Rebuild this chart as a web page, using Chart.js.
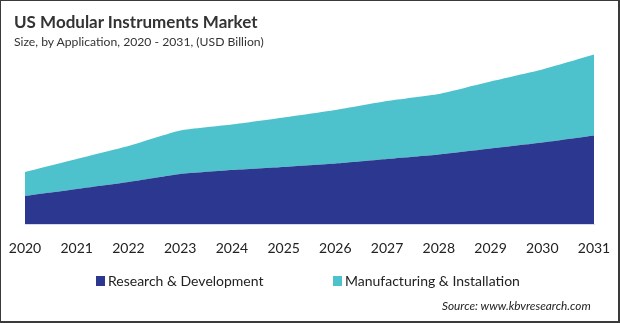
<!DOCTYPE html>
<html>
<head>
<meta charset="utf-8">
<script src="https://cdn.jsdelivr.net/npm/chart.js@4"></script>
<style>
  html, body { margin: 0; padding: 0; background: #fff; }
  #frame {
    position: relative; width: 617px; height: 320px;
    border-top: 1px solid #3a3a3a; border-left: 1px solid #3a3a3a;
    border-right: 2px solid #3a3a3a; border-bottom: 2px solid #3a3a3a;
    overflow: hidden; font-family: Lato, sans-serif;
  }
  #title { position: absolute; left: 13px; top: 10px; font-size: 17px; font-weight: bold; color: #333; }
  #subtitle { position: absolute; left: 13px; top: 33px; font-size: 12.2px; color: #333; }
  #source { position: absolute; left: 441px; top: 297px; font-size: 11.8px; font-style: italic; color: #222; }
  #chart { position: absolute; left: -1px; top: -1px; }
  .key { position: absolute; top: 272px; font-size: 14px; line-height: 16px; color: #222; white-space: nowrap; }
  .key i { position: absolute; left: -12px; top: 3px; width: 9px; height: 10px; }
</style>
</head>
<body>
<div id="frame">
  <canvas id="chart" width="620" height="323"></canvas>
  <div id="title">US Modular Instruments Market</div>
  <div id="subtitle">Size, by Application, 2020 - 2031, (USD Billion)</div>
  <div id="legend"></div>
  <div id="source">Source: www.kbvresearch.com</div>
</div>
<script>
// years on the x axis
const years = ['2020','2021','2022','2023','2024','2025','2026','2027','2028','2029','2030','2031'];

// USD Billion per application segment (stacked)
const research = [0.56, 0.70, 0.84, 1.00, 1.08, 1.14, 1.21, 1.30, 1.39, 1.51, 1.63, 1.77];
const manufacturing = [0.48, 0.60, 0.72, 0.87, 0.91, 0.99, 1.07, 1.16, 1.21, 1.34, 1.46, 1.62];

const seriesNames = ['Research & Development', 'Manufacturing & Installation'];
const seriesColors = ['#2c388f', '#4dc2cc'];

const chart = new Chart(document.getElementById('chart'), {
    type: 'line',
    data: {
        labels: years,
        datasets: [{
            label: seriesNames[0],
            data: research,
            backgroundColor: seriesColors[0],
            borderColor: seriesColors[0],
            borderWidth: 0,
            pointRadius: 0,
            fill: 'origin',
            tension: 0.15
        }, {
            label: seriesNames[1],
            data: manufacturing,
            backgroundColor: seriesColors[1],
            borderColor: seriesColors[1],
            borderWidth: 0,
            pointRadius: 0,
            fill: '-1',
            tension: 0.15
        }]
    },
    options: {
        responsive: false,
        animation: false,
        devicePixelRatio: 1,
        layout: { padding: { left: 25, right: 26, top: 24, bottom: 69 } },
        scales: {
            x: {
                offset: false,
                grid: { display: false },
                border: { display: true, color: '#d0dcf2', width: 1 },
                ticks: { color: '#222', font: { family: 'Lato', size: 14 }, padding: 8, maxRotation: 0, autoSkip: false },
                // fixed axis box so the plot keeps its own edges
                afterFit(scale) {
                    scale.paddingLeft = 0;
                    scale.paddingRight = 0;
                    scale.height = 30;
                }
            },
            y: {
                stacked: true,
                display: false,
                min: 0,
                max: 4
            }
        },
        plugins: {
            legend: { display: false },
            tooltip: { enabled: false }
        }
    }
});

// legend row under the axis, built from the chart's datasets
const legendLeft = [108, 345];
const legendEl = document.getElementById('legend');
chart.data.datasets.forEach((ds, i) => {
    const item = document.createElement('div');
    item.className = 'key';
    item.style.left = (legendLeft[i] - 1) + 'px';
    const box = document.createElement('i');
    box.style.background = ds.backgroundColor;
    item.appendChild(box);
    item.appendChild(document.createTextNode(ds.label));
    legendEl.appendChild(item);
});
</script>
</body>
</html>
